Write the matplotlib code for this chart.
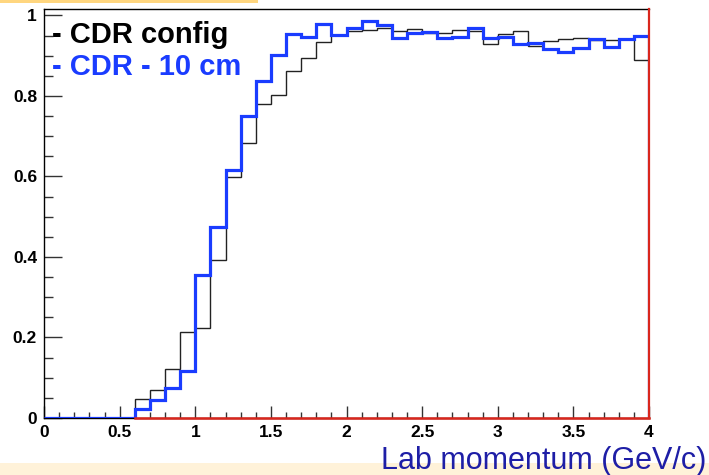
import numpy as np
import matplotlib
matplotlib.use("Agg")
import matplotlib.pyplot as plt
from matplotlib.patches import Rectangle
from matplotlib.ticker import MultipleLocator, FuncFormatter

# ---- data ----
x_min, x_max, n_bins = 0.0, 4.0, 40
cdr_config = [0.0, 0.0, 0.0, 0.0, 0.0, 0.0,
              0.048, 0.070, 0.121, 0.214, 0.224, 0.393, 0.598, 0.682, 0.779, 0.802,
              0.863, 0.895, 0.933, 0.952, 0.962, 0.964, 0.968, 0.962, 0.966, 0.957,
              0.956, 0.964, 0.961, 0.929, 0.953, 0.961, 0.924, 0.937, 0.942, 0.945,
              0.939, 0.939, 0.941, 0.889]
cdr_10cm = [0.0, 0.0, 0.0, 0.0, 0.0, 0.0,
            0.023, 0.044, 0.075, 0.116, 0.356, 0.475, 0.616, 0.750, 0.836, 0.902,
            0.953, 0.947, 0.978, 0.952, 0.969, 0.986, 0.976, 0.945, 0.956, 0.958,
            0.945, 0.947, 0.970, 0.945, 0.947, 0.928, 0.932, 0.917, 0.909, 0.918,
            0.941, 0.921, 0.941, 0.950]
legend_labels = ["- CDR config", "- CDR - 10 cm"]
x_label = "Lab momentum (GeV/c)"

edges = np.linspace(x_min, x_max, n_bins + 1)

plt.rcParams['font.family'] = ['Liberation Sans', 'DejaVu Sans']

W, H = 709, 475
fig = plt.figure(figsize=(W / 100, H / 100), dpi=100)
fig.patch.set_facecolor('white')

# decorative slide bands
fig.add_artist(Rectangle((0, 1 - 2.5 / H), 258 / W, 2.5 / H, transform=fig.transFigure,
                         facecolor='#ffd67f', edgecolor='none', zorder=0))
fig.add_artist(Rectangle((0, 0), 1, 12 / H, transform=fig.transFigure,
                         facecolor='#fff2d9', edgecolor='none', zorder=0))

ax = fig.add_axes([44 / W, 57 / H, 605 / W, 409 / H])
ax.set_xlim(x_min, x_max)
ax.set_ylim(0, 1.016)

black = '#222222'
blue = '#1a3cff'
red = '#d9261c'

ax.stairs(cdr_config, edges, color=black, linewidth=1.0, zorder=3)
ax.stairs(cdr_10cm, edges, color=blue, linewidth=2.3, zorder=3.5)

# red zero-line and right frame (as in the reference)
ax.plot([0.6, x_max], [0, 0], color=red, linewidth=1.8, zorder=4, clip_on=False)
for s in ['top', 'left', 'bottom']:
    ax.spines[s].set_color('black')
    ax.spines[s].set_linewidth(1.0)
ax.spines['right'].set_color(red)
ax.spines['right'].set_linewidth(1.6)
ax.spines['right'].set_zorder(10)

ax.xaxis.set_major_locator(MultipleLocator(0.5))
ax.xaxis.set_minor_locator(MultipleLocator(0.1))
ax.yaxis.set_major_locator(MultipleLocator(0.2))
ax.yaxis.set_minor_locator(MultipleLocator(0.05))
fmt = FuncFormatter(lambda v, p: '%g' % round(v, 2))
ax.xaxis.set_major_formatter(fmt)
ax.yaxis.set_major_formatter(fmt)

ax.tick_params(axis='x', which='major', direction='in', length=8.5, width=1.0,
               color='#333333', pad=5, labelsize=12.5)
ax.tick_params(axis='x', which='minor', direction='in', length=4.3, width=1.0, color='#333333')
ax.tick_params(axis='y', which='major', direction='in', length=13, width=1.0,
               color='#333333', pad=5, labelsize=12.5)
ax.tick_params(axis='y', which='minor', direction='in', length=6.5, width=1.0, color='#333333')
for lab in ax.get_xticklabels() + ax.get_yticklabels():
    lab.set_fontweight('bold')

ax.text(8 / 605, (418 - 35) / 409, legend_labels[0], transform=ax.transAxes,
        fontsize=21, fontweight='bold', color='black', ha='left', va='center', zorder=6)
ax.text(8 / 605, (418 - 67) / 409, legend_labels[1], transform=ax.transAxes,
        fontsize=21, fontweight='bold', color=blue, ha='left', va='center', zorder=6)

fig.text(706 / W, (H - 461) / H, x_label, color='#1e1ea6', fontsize=22,
         ha='right', va='center')

fig.savefig('out.png', dpi=100, facecolor='white')
